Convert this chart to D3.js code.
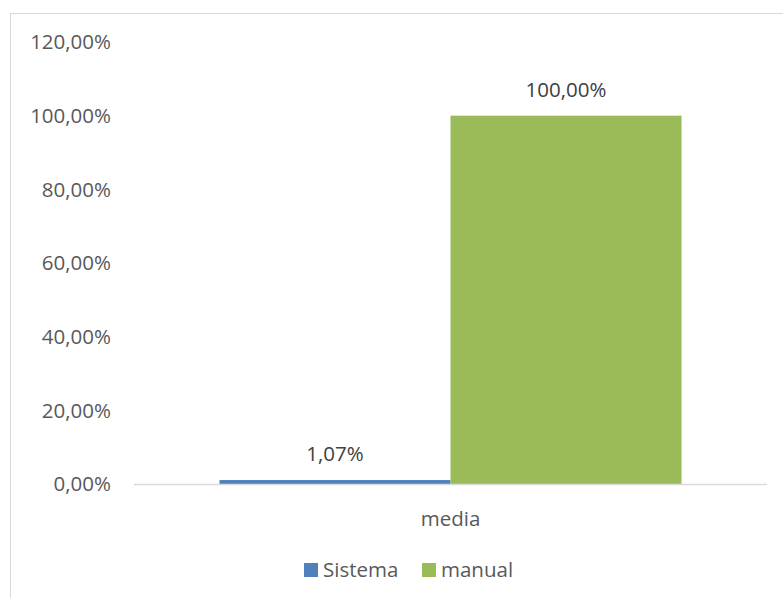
<!DOCTYPE html>
<html><head><meta charset="utf-8">
<script src="https://cdn.jsdelivr.net/npm/d3@7"></script>
<style>body{margin:0;background:#fff;} svg{display:block;}</style>
</head><body>
<svg id="chart" width="783" height="598"></svg>
<script>
const categories = ["media"];
const seriesNames = ["Sistema", "manual"];
const sistemaValues = [0.0107];
const manualValues = [1.0];
const yTicks = [0, 0.2, 0.4, 0.6, 0.8, 1.0, 1.2];
const colors = ["#4f81bd", "#9bbb59"];

const svg = d3.select("#chart");
const font = "'Open Sans', sans-serif";
const textColor = "#595959";

svg.append("rect").attr("x", 10.5).attr("y", 13.5).attr("width", 800).attr("height", 600)
  .attr("fill", "#fff").attr("stroke", "#d9d9d9").attr("stroke-width", 1);

const x0 = d3.scaleBand().domain(categories).range([134, 767]).padding(0);
const x1 = d3.scaleBand().domain(seriesNames).range([0, x0.bandwidth()]).paddingInner(0).paddingOuter(0.37);
const y = d3.scaleLinear().domain([0, 1.2]).range([484, 42]);

const fmt = v => (v * 100).toFixed(2).replace(".", ",") + "%";

// y tick labels
svg.append("g").selectAll("text").data(yTicks).join("text")
  .attr("x", 111).attr("y", d => y(d)).attr("dy", "0.35em")
  .attr("text-anchor", "end").attr("font-family", font).attr("font-size", 20.5)
  .attr("fill", textColor).text(fmt);

const data = categories.map((c, i) => ({cat: c, vals: [sistemaValues[i], manualValues[i]]}));

const g = svg.append("g").selectAll("g").data(data).join("g")
  .attr("transform", d => `translate(${x0(d.cat)},0)`);

g.selectAll("rect").data(d => d.vals.map((v, i) => ({name: seriesNames[i], v, i}))).join("rect")
  .attr("x", d => x1(d.name)).attr("width", x1.bandwidth())
  .attr("y", d => y(d.v)).attr("height", d => y(0) - y(d.v))
  .attr("fill", d => colors[d.i]);

g.selectAll("text.lbl").data(d => d.vals.map((v, i) => ({name: seriesNames[i], v, i}))).join("text")
  .attr("class", "lbl")
  .attr("x", d => x1(d.name) + x1.bandwidth() / 2).attr("y", d => y(d.v) - 19)
  .attr("text-anchor", "middle").attr("font-family", font).attr("font-size", 20.5)
  .attr("fill", "#404040").text(d => fmt(d.v));

// x axis line
svg.append("line").attr("x1", 134).attr("x2", 767).attr("y1", 484.5).attr("y2", 484.5)
  .attr("stroke", "#d9d9d9").attr("stroke-width", 1.5);

// category labels
svg.append("g").selectAll("text").data(categories).join("text")
  .attr("x", d => x0(d) + x0.bandwidth() / 2).attr("y", 519).attr("dy", "0.35em")
  .attr("text-anchor", "middle").attr("font-family", font).attr("font-size", 20.5)
  .attr("fill", textColor).text(d => d);

// legend
const legendX = [304, 422];
const lg = svg.append("g").selectAll("g").data(seriesNames).join("g")
  .attr("transform", (d, i) => `translate(${legendX[i]},563)`);
lg.append("rect").attr("width", 14).attr("height", 14).attr("fill", (d, i) => colors[i]);
lg.append("text").attr("x", 19).attr("y", 7).attr("dy", "0.35em")
  .attr("font-family", font).attr("font-size", 20.5).attr("fill", textColor).text(d => d);
</script>
</body></html>
